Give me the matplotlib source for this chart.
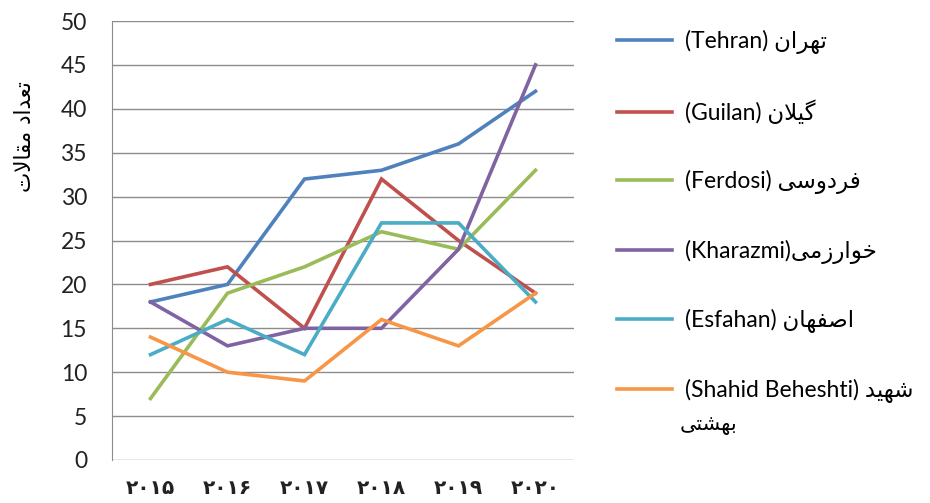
import matplotlib
matplotlib.use("Agg")
import matplotlib.pyplot as plt

plt.rcParams['font.family'] = ['Lato', 'DejaVu Sans']

# years (Persian digits) and article counts per university
years = ['۲۰۱۵', '۲۰۱۶', '۲۰۱۷', '۲۰۱۸', '۲۰۱۹', '۲۰۲۰']
tehran = [18, 20, 32, 33, 36, 42]
guilan = [20, 22, 15, 32, 25, 19]
ferdosi = [7, 19, 22, 26, 24, 33]
kharazmi = [18, 13, 15, 15, 24, 45]
esfahan = [12, 16, 12, 27, 27, 18]
beheshti = [14, 10, 9, 16, 13, 19]

# Persian words written as presentation forms in visual (left-to-right) order,
# since matplotlib does no Arabic shaping
labels = [
    '(Tehran) ' + 'ﻥﺍﺮﻬﺗ',
    '(Guilan) ' + 'ﻥﻼﯿﮔ',
    '(Ferdosi) ' + 'ﯽﺳﻭﺩﺮﻓ',
    '(Kharazmi)' + 'ﯽﻣﺯﺭﺍﻮﺧ',
    '(Esfahan) ' + 'ﻥﺎﻬﻔﺻﺍ',
    '(Shahid Beheshti) ' + 'ﺪﯿﻬﺷ',
]
label_extra = 'ﯽﺘﺸﻬﺑ'
ylabel = 'ﺕﻻﺎﻘﻣ ﺩﺍﺪﻌﺗ'

colors = ['#4F81BD', '#C0504D', '#9BBB59', '#8064A2', '#4BACC6', '#F79646']
series = [tehran, guilan, ferdosi, kharazmi, esfahan, beheshti]

fig = plt.figure(figsize=(9.3, 5.03), dpi=100)
ax = fig.add_axes([112 / 930, 1 - 460 / 503, 462 / 930, 439 / 503])

x = list(range(len(years)))
for vals, lab, c in zip(series, labels, colors):
    ax.plot(x, vals, color=c, linewidth=2.6, label=lab, solid_joinstyle='miter')

ax.set_xlim(-0.5, 5.5)
ax.set_ylim(0, 50)
ax.set_yticks(range(0, 51, 5))
ax.set_xticks(x)
ax.set_xticklabels(years, fontsize=14.5, family=['DejaVu Sans'], fontweight='bold',
                   color='#222222')
ax.tick_params(axis='x', length=0, pad=14)
ax.tick_params(axis='y', length=0, pad=18, labelsize=16.5, labelcolor='#222222')
ax.yaxis.grid(True, color='#8C8C8C', linewidth=1)
ax.set_axisbelow(True)
for s in ['top', 'right', 'bottom']:
    ax.spines[s].set_visible(False)
ax.spines['left'].set_color('#8C8C8C')

fig.text(25 / 930, 1 - 137 / 503, ylabel, rotation=90, ha='center', va='center',
         fontsize=15.5, family=['DejaVu Sans'])

leg = ax.legend(loc='upper left', bbox_to_anchor=(617 / 930, 1 - 30 / 503),
                bbox_transform=fig.transFigure, frameon=False, fontsize=16.5,
                handlelength=2.4, handletextpad=0.57, labelspacing=1.99,
                borderaxespad=0, borderpad=0)
fig.text(680 / 930, 1 - 425 / 503, label_extra, ha='left', va='center',
         fontsize=15, family=['DejaVu Sans'])

fig.savefig('out.png', dpi=100, facecolor='white')
